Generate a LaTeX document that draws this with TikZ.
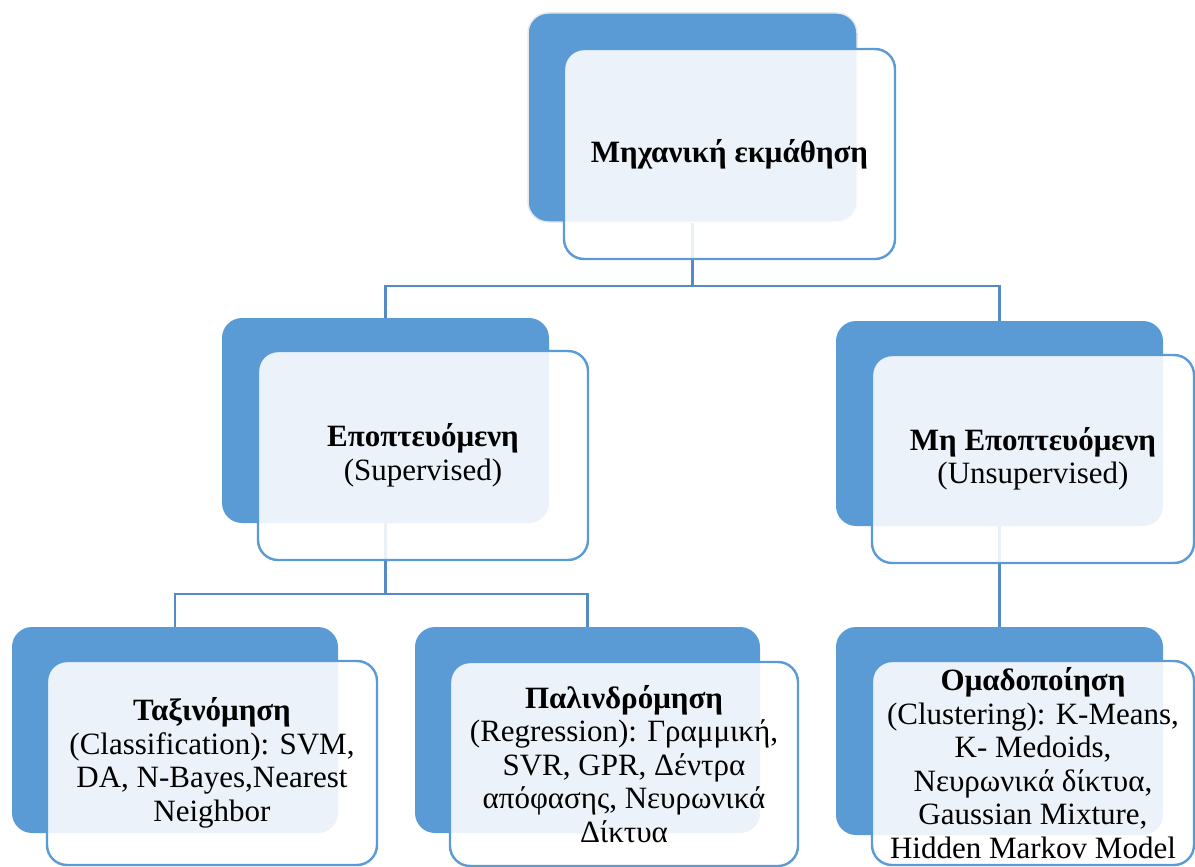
\documentclass[tikz,border=0pt]{standalone}
\usepackage{fontspec}
\setmainfont{Liberation Serif}
\usetikzlibrary{backgrounds}
\definecolor{backblue}{RGB}{91,155,213}
\definecolor{connblue}{RGB}{84,138,197}
\tikzset{
  backbox/.style={rectangle, rounded corners=20pt, fill=backblue, draw=none, inner sep=0pt},
  frontbox/.style={rectangle, rounded corners=20pt, draw=backblue, line width=2.4pt, fill=white, fill opacity=0.88, text opacity=1, inner sep=0pt, align=center, font=\fontsize{31}{33.5}\selectfont},
  conn/.style={draw=connblue, line width=2.6pt},
}
\begin{document}
\begin{tikzpicture}[x=1pt,y=-1pt]
\useasboundingbox (0,0) rectangle (1195,867);
% back boxes
\node[backbox, draw=gray!18, line width=1.5pt, minimum width=329pt, minimum height=209pt] (tb) at (692.5,117.5) {};
\node[backbox, minimum width=327pt, minimum height=205pt] (mlb) at (385.5,420.5) {};
\node[backbox, minimum width=327pt, minimum height=205pt] (mrb) at (999.5,423.5) {};
\node[backbox, minimum width=326pt, minimum height=206pt] (blb) at (175,730) {};
\node[backbox, minimum width=345pt, minimum height=206pt] (bmb) at (587.5,730) {};
\node[backbox, minimum width=327pt, minimum height=208pt] (brb) at (999.5,731) {};
% connectors, behind the boxes
\coordinate (bus1) at (0,286);
\coordinate (bus2) at (0,594);
\begin{scope}[on background layer]
\draw[conn] (mlb.north) |- (bus1 -| tb.center) -- (tb.center);
\draw[conn] (mrb.north) |- (bus1 -| tb.center);
\draw[conn] (blb.north) |- (bus2 -| mlb.center) -- (mlb.center);
\draw[conn] (bmb.north) |- (bus2 -| mlb.center);
\draw[conn] (brb.north) -- (mrb.center);
\end{scope}
% front boxes
\node[frontbox, minimum width=331pt, minimum height=210pt] (tf) at (729.5,154) {\textbf{Μηχανική εκμάθηση}};
\node[frontbox, minimum width=330pt, minimum height=209pt] (mlf) at (423,455.5) {\textbf{Εποπτευόμενη}\\(Supervised)};
\node[frontbox, minimum width=322pt, minimum height=208pt] (mrf) at (1033,459) {\textbf{Μη Εποπτευόμενη}\\(Unsupervised)};
\node[frontbox, minimum width=330pt, minimum height=204pt] (blf) at (212,763) {\textbf{Ταξινόμηση}\\(Classification): SVM,\\DA, N-Bayes,Nearest\\Neighbor};
\node[frontbox, minimum width=348pt, minimum height=204pt] (bmf) at (624,764) {\textbf{Παλινδρόμηση}\\(Regression): Γραμμική,\\SVR, GPR, Δέντρα\\απόφασης, Νευρωνικά\\Δίκτυα};
\node[frontbox, minimum width=322pt, minimum height=204pt] (brf) at (1033,763) {\textbf{Ομαδοποίηση}\\(Clustering): K-Means,\\K- Medoids,\\Νευρωνικά δίκτυα,\\Gaussian Mixture,\\Hidden Markov Model};
\end{tikzpicture}
\end{document}
